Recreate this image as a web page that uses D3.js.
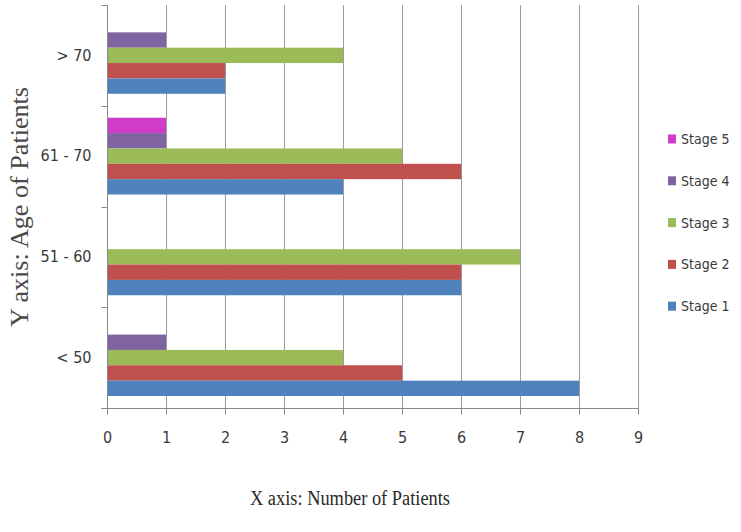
<!DOCTYPE html>
<html>
<head>
<meta charset="utf-8">
<script src="https://cdn.jsdelivr.net/npm/d3@7"></script>
<style>
  html, body { margin: 0; padding: 0; background: #fff; }
  svg { display: block; }
</style>
</head>
<body>
<div id="chart"></div>
<script>
// ---- data ----
const categories = ["> 70", "61 - 70", "51 - 60", "< 50"];   // top to bottom
const stages = ["Stage 5", "Stage 4", "Stage 3", "Stage 2", "Stage 1"]; // top to bottom within a group
const stage1 = [2, 4, 6, 8];
const stage2 = [2, 6, 6, 5];
const stage3 = [4, 5, 7, 4];
const stage4 = [1, 1, 0, 1];
const stage5 = [0, 1, 0, 0];
const xTicks = [0, 1, 2, 3, 4, 5, 6, 7, 8, 9];
const colors = {
  "Stage 1": "#4F81BD",
  "Stage 2": "#C0504D",
  "Stage 3": "#9BBB59",
  "Stage 4": "#8064A2",
  "Stage 5": "#D03CC8"
};
const seriesValues = {
  "Stage 1": stage1, "Stage 2": stage2, "Stage 3": stage3,
  "Stage 4": stage4, "Stage 5": stage5
};

// ---- layout ----
const W = 741, H = 532;
const plot = { left: 107, right: 638, top: 5, bottom: 408 };

const svg = d3.select("#chart").append("svg")
  .attr("width", W).attr("height", H);

const x = d3.scaleLinear().domain([0, 9]).range([plot.left, plot.right]);
const y0 = d3.scaleBand().domain(categories).range([plot.top, plot.bottom])
  .paddingInner(0.238).paddingOuter(0.119);
const y1 = d3.scaleBand().domain(stages).range([0, y0.bandwidth()]);

const narrow = "'Liberation Sans Narrow', 'Arial Narrow', 'DejaVu Sans Condensed', 'Roboto Condensed', sans-serif";

// gridlines
svg.append("g").selectAll("line")
  .data(xTicks.filter(d => d > 0))
  .join("line")
  .attr("x1", d => x(d) + 0.5).attr("x2", d => x(d) + 0.5)
  .attr("y1", plot.top).attr("y2", plot.bottom)
  .attr("stroke", "#9a9a9a").attr("stroke-width", 1);

// bars
const rows = [];
categories.forEach((c, i) => {
  stages.forEach(s => rows.push({ cat: c, stage: s, value: seriesValues[s][i] }));
});
svg.append("g").selectAll("rect")
  .data(rows.filter(d => d.value > 0))
  .join("rect")
  .attr("x", x(0) + 1)
  .attr("y", d => y0(d.cat) + y1(d.stage))
  .attr("width", d => x(d.value) - x(0) - 1)
  .attr("height", y1.bandwidth())
  .attr("fill", d => colors[d.stage]);

// x axis
const xAxis = svg.append("g")
  .attr("transform", `translate(0,${plot.bottom + 0.5})`)
  .call(d3.axisBottom(x).tickValues(xTicks).tickFormat(d3.format("d"))
    .tickSize(6).tickSizeOuter(0).tickPadding(17));
xAxis.select(".domain").attr("stroke", "#8a8a8a").attr("d", `M${plot.left - 6},0H${plot.right + 1}`);
xAxis.selectAll(".tick line").attr("stroke", "#8a8a8a");
xAxis.selectAll("text").attr("font-family", narrow).attr("font-size", 16).attr("fill", "#3a3a3a");

// y axis (labels at band centers, ticks at band boundaries)
const yAxis = svg.append("g")
  .attr("transform", `translate(${plot.left + 0.5},0)`)
  .call(d3.axisLeft(y0).tickSize(0).tickPadding(16));
yAxis.select(".domain").attr("stroke", "#8a8a8a")
  .attr("d", `M0,${plot.top}V${plot.bottom}`);
yAxis.selectAll("text").attr("font-family", narrow).attr("font-size", 16).attr("fill", "#3a3a3a");
const bounds = d3.range(categories.length + 1).map(i => plot.top + i * y0.step());
yAxis.append("g").selectAll("line")
  .data(bounds)
  .join("line")
  .attr("x1", -6).attr("x2", 0)
  .attr("y1", d => Math.round(d) + 0.5).attr("y2", d => Math.round(d) + 0.5)
  .attr("stroke", "#8a8a8a");

// legend (Stage 5 top to Stage 1 bottom)
const legend = svg.append("g");
stages.forEach((s, i) => {
  const cy = 139 + i * 41.8;
  legend.append("rect").attr("x", 668).attr("y", cy - 4.5).attr("width", 8).attr("height", 9)
    .attr("fill", colors[s]);
  legend.append("text").attr("x", 681).attr("y", cy).attr("dy", "0.36em")
    .attr("font-family", "'DejaVu Sans Condensed', 'DejaVu Sans', sans-serif")
    .attr("font-size", 14).attr("fill", "#3a3a3a").text(s);
});

// axis titles
svg.append("text")
  .attr("x", 350).attr("y", 505)
  .attr("text-anchor", "middle")
  .attr("font-family", "'Liberation Serif', 'Times New Roman', serif")
  .attr("font-size", 20).attr("fill", "#2a2a2a")
  .attr("textLength", 200).attr("lengthAdjust", "spacingAndGlyphs")
  .text("X axis: Number of Patients");

svg.append("text")
  .attr("transform", "translate(28,207) rotate(-90)")
  .attr("text-anchor", "middle")
  .attr("font-family", "'Liberation Serif', 'Times New Roman', serif")
  .attr("font-size", 25).attr("fill", "#4a4a4a")
  .attr("textLength", 240).attr("lengthAdjust", "spacingAndGlyphs")
  .text("Y axis: Age of Patients");
</script>
</body>
</html>
